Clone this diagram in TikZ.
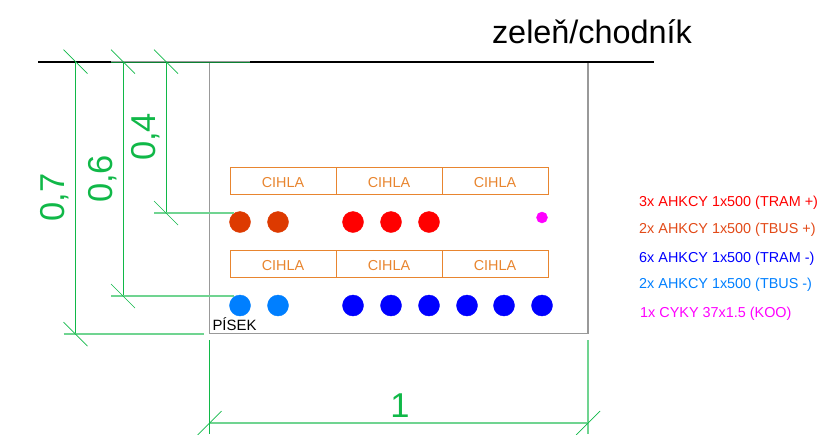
\documentclass[tikz,border=0pt]{standalone}
\usepackage{fontspec}
\setmainfont{Liberation Sans}
\usepackage{xcolor}
\usetikzlibrary{positioning,calc}
\definecolor{dimgreen}{HTML}{10B848}
\definecolor{brickorange}{HTML}{E8852F}
\definecolor{tbusplus}{HTML}{DD3A00}
\definecolor{tbustext}{HTML}{E24A18}
\definecolor{tbusminus}{HTML}{007FFF}
\definecolor{koomagenta}{HTML}{FF00FF}
\tikzset{
    dimline/.style={line width=0.9pt, dimgreen},
    dimlight/.style={line width=1.3pt, dimgreen!60},
    dimtick/.style={line width=0.7pt, dimgreen},
    dimtext/.style={color=dimgreen, font=\fontsize{34.5}{36}\selectfont, inner sep=0pt},
    brick/.style={draw=brickorange, line width=1pt, minimum width=106pt, minimum height=27pt,
        inner sep=0pt, outer sep=0pt, text height=13.4pt, text depth=0pt,
        text=brickorange, font=\fontsize{14.4}{14.4}\selectfont},
    legend/.style={anchor=west, inner sep=0pt, font=\fontsize{14.4}{14.4}\selectfont},
}
\begin{document}
\begin{tikzpicture}[x=1pt,y=-1pt]
        \useasboundingbox (0,0) rectangle (829,434);
        % coordinates
        \coordinate (p1) at (209.5,61.5);
        \coordinate (p2) at (588,61.5);
        \coordinate (p3) at (588,333.5);
        \coordinate (p4) at (209.5,333.5);
        \coordinate (d7t) at (75.5,61.7);
        \coordinate (d7b) at (75.5,334);
        \coordinate (d6t) at (123,61.7);
        \coordinate (d6b) at (123,296);
        \coordinate (d4t) at (166,61.7);
        \coordinate (d4b) at (166,213);
        \coordinate (d1l) at (209.5,423);
        \coordinate (d1r) at (588,423);
        % trench
        \draw[line width=1.4pt, black!40] (p1) -- (p4) -- (p3) -- (p2);
        \draw[line width=2.1pt, black] (38,61.7) -- (654,61.7);
        \draw[line width=0.8pt, black!40] (111,61.1) -- (250,61.1);
        \draw[line width=0.8pt, dimgreen!70!black] (111,62.1) -- (250,62.1);

        % bricks
        \foreach \row/\y in {a/180.7, b/264.2}{
            \node[brick] (cihla\row1) at (283,\y) {CIHLA};
            \node[brick, right=0pt of cihla\row1] (cihla\row2) {CIHLA};
            \node[brick, right=0pt of cihla\row2] (cihla\row3) {CIHLA};
        }

        % cables
        \foreach \x in {240,278}{
            \filldraw[tbusplus] (\x,222) circle (10.5);
            \filldraw[tbusminus] (\x,305.5) circle (10.5);
        }
        \foreach \x in {353,391,429}{
            \filldraw[red] (\x,222) circle (10.5);
        }
        \foreach \x in {353,391,429,467,504,542}{
            \filldraw[blue] (\x,305.5) circle (10.5);
        }
        \filldraw[koomagenta] (542,217.5) circle (5.5);

        % dimensions
        \draw[dimline] (d7t) -- (d7b);
        \draw[dimline] (d6t) -- (d6b);
        \draw[dimline] (d4t) -- (d4b);
        \draw[dimlight] (154,213) -- (234,213);
        \draw[dimlight] (111,296) -- (234,296);
        \draw[dimlight] (63.5,334) -- (204,334);
        \draw[dimline] (209.5,340) -- (209.5,434);
        \draw[dimlight] (588,340) -- (588,434);
        \draw[dimlight] (d1l) -- (d1r);
        \foreach \c in {d7t,d7b,d6t,d6b,d4t,d4b}{
            \draw[dimtick] ($(\c)+(-12,-12)$) -- ($(\c)+(12,12)$);
        }
        \foreach \c in {d1l,d1r}{
            \draw[dimtick] ($(\c)+(-12,12)$) -- ($(\c)+(12,-12)$);
        }

        % Text
        \node[dimtext, rotate=90] (t7) at (55,197.5) {0,7};
        \node[dimtext, rotate=90] (t6) at (102.5,179) {0,6};
        \node[dimtext, rotate=90] (t4) at (146,137) {0,4};
        \node[dimtext] (t1) at (400,405.5) {1};
        \node[inner sep=0pt, font=\fontsize{32.4}{32.4}\selectfont] (title) at (592,32) {zeleň/chodník};
        \node[inner sep=0pt, font=\fontsize{14.9}{14.9}\selectfont] (pisek) at (234.5,324) {PÍSEK};
        \node[legend, red] (l1) at (639,203) {3x AHKCY 1x500 (TRAM +)};
        \node[legend, color=tbustext] (l2) at (639,230) {2x AHKCY 1x500 (TBUS +)};
        \node[legend, blue] (l3) at (639,259) {6x AHKCY 1x500 (TRAM -)};
        \node[legend, color=tbusminus] (l4) at (639,285) {2x AHKCY 1x500 (TBUS -)};
        \node[legend, koomagenta] (l5) at (640,314) {1x CYKY 37x1.5 (KOO)};

    \end{tikzpicture}
\end{document}
